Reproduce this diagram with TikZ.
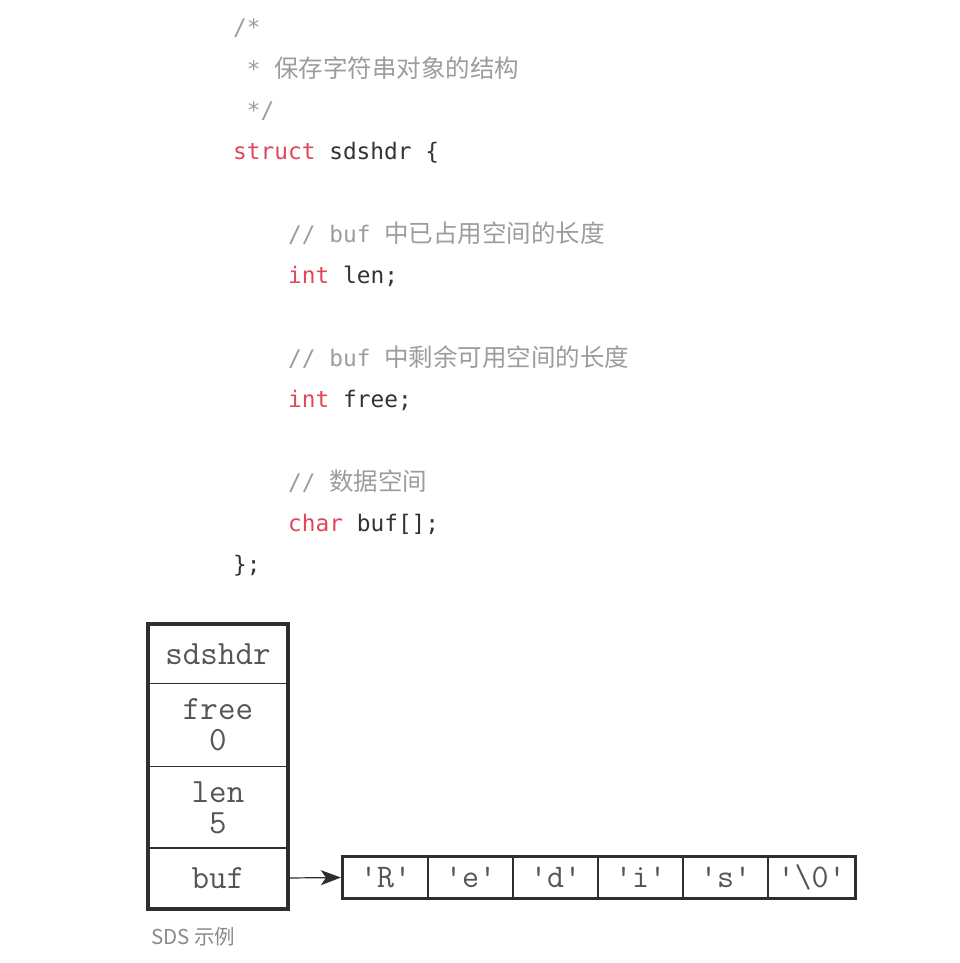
\documentclass[tikz,border=0pt]{standalone}
\usepackage{fontspec}
\newfontfamily\codefont{DejaVu Sans Mono}
\newfontfamily\cjk{Noto Sans CJK SC}
\usetikzlibrary{arrows.meta}
\definecolor{kw}{HTML}{E0475A}
\definecolor{cm}{HTML}{9C9C9C}
\definecolor{tx}{HTML}{333333}
\definecolor{bx}{HTML}{555555}
\definecolor{ln}{HTML}{2E2E2E}
\definecolor{cap}{HTML}{8A8A8A}
\newcommand{\zh}[1]{{\cjk\fontsize{24.5}{24.5}\selectfont #1}}
\newcommand{\lead}{\hphantom{x}}
\tikzset{
  codeline/.style={anchor=base west, inner sep=0pt, text=tx,
    font=\codefont\fontsize{22.8}{22.8}\selectfont},
  cell/.style={draw=ln, line width=1.2pt, minimum width=85pt, minimum height=41pt,
    inner sep=0pt, text=bx, font=\ttfamily\fontsize{33}{33}\selectfont},
  field/.style={draw=ln, line width=1.2pt, minimum width=138pt, inner sep=0pt,
    text=bx, align=center, font=\ttfamily\fontsize{34}{31}\selectfont},
  frame/.style={draw=ln, line width=4pt},
  ptr/.style={draw=ln, line width=1.2pt, -{Stealth[length=20pt,width=15pt,inset=5pt]}},
  caption/.style={anchor=base west, inner sep=0pt, text=cap,
    font=\cjk\fontsize{20.5}{20.5}\selectfont}
}
\begin{document}
\begin{tikzpicture}[x=1pt,y=-1pt]
\useasboundingbox (0,0) rectangle (959,963);
% code
\node[codeline] (l0) at (233,36) {\textcolor{cm}{/*}};
\node[codeline] (l1) at (233,77.3) {\textcolor{cm}{\lead* \zh{保存字符串对象的结构}}};
\node[codeline] (l2) at (233,118.6) {\textcolor{cm}{\lead*/}};
\node[codeline] (l3) at (233,159.9) {\textcolor{kw}{struct} sdshdr \{};
\node[codeline] (l5) at (288,242.5) {\textcolor{cm}{// buf \zh{中已占用空间的长度}}};
\node[codeline] (l6) at (288,283.8) {\textcolor{kw}{int} len;};
\node[codeline] (l8) at (288,366.4) {\textcolor{cm}{// buf \zh{中剩余可用空间的长度}}};
\node[codeline] (l9) at (288,407.7) {\textcolor{kw}{int} free;};
\node[codeline] (l11) at (288,490.3) {\textcolor{cm}{// \zh{数据空间}}};
\node[codeline] (l12) at (288,531.6) {\textcolor{kw}{char} buf[];};
\node[codeline] (l13) at (233,572.9) {\};};
% struct box
\node[field, minimum height=59pt] (hdr) at (218,654) {sdshdr};
\node[field, minimum height=83pt] (free) at (218,725) {free\\0};
\node[field, minimum height=82pt] (len) at (218,807.5) {len\\5};
\node[field, minimum height=60pt] (buf) at (218,878) {buf};
\draw[frame] (hdr.north west) rectangle (buf.south east);
% array
\node[cell] (c0) at (385.5,877.5) {'R'};
\node[cell] (c1) at (470.5,877.5) {'e'};
\node[cell] (c2) at (555.5,877.5) {'d'};
\node[cell] (c3) at (640.5,877.5) {'i'};
\node[cell] (c4) at (725.5,877.5) {'s'};
\node[cell, minimum width=87pt] (c5) at (811.5,877.5) {'\textbackslash 0'};
\draw[line width=3.5pt, draw=ln] (c0.north west) rectangle (c5.south east);
\draw[ptr] (buf.east) -- ([xshift=-1.5pt]c0.west);
% caption
\node[caption] (capt) at (151,944) {SDS 示例};
\end{tikzpicture}
\end{document}
